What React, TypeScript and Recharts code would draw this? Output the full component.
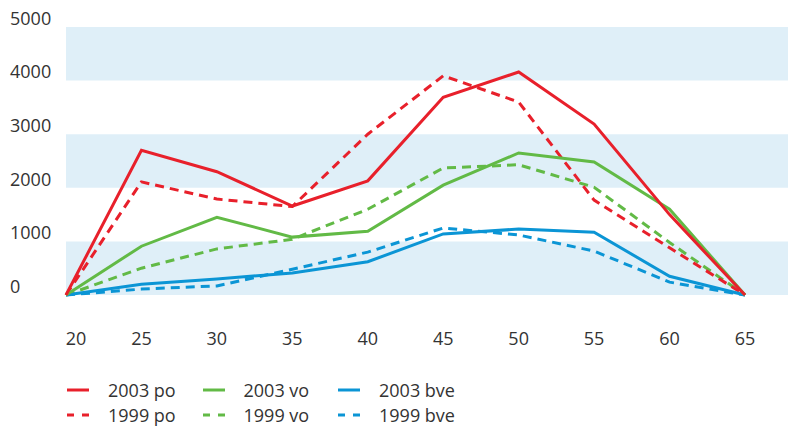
import React from "react";
import { LineChart, Line, XAxis, YAxis, ReferenceArea, Legend } from "recharts";

const ages = [20, 25, 30, 35, 40, 45, 50, 55, 60, 65];
const po2003 = [0, 2700, 2300, 1660, 2130, 3690, 4160, 3190, 1500, 0];
const po1999 = [0, 2110, 1790, 1650, 3000, 4090, 3600, 1770, 880, 0];
const vo2003 = [0, 910, 1450, 1080, 1190, 2050, 2650, 2480, 1600, 0];
const vo1999 = [0, 500, 860, 1040, 1600, 2370, 2430, 2010, 980, 0];
const bve2003 = [0, 200, 300, 410, 620, 1140, 1230, 1170, 350, 0];
const bve1999 = [0, 110, 170, 480, 800, 1250, 1120, 820, 240, 0];

const yTicks = [0, 1000, 2000, 3000, 4000, 5000];
const bands = [
  [0, 1000],
  [2000, 3000],
  [4000, 5000],
];

const RED = "#e8202b";
const GREEN = "#62ba46";
const BLUE = "#0b95d5";
const BAND = "#dfeff8";
const TEXT = "#333333";
const FONT = "'Open Sans', sans-serif";

const series = [
  { key: "po2003", name: "2003 po", color: RED, dashed: false, values: po2003 },
  { key: "vo2003", name: "2003 vo", color: GREEN, dashed: false, values: vo2003 },
  { key: "bve2003", name: "2003 bve", color: BLUE, dashed: false, values: bve2003 },
  { key: "po1999", name: "1999 po", color: RED, dashed: true, values: po1999 },
  { key: "vo1999", name: "1999 vo", color: GREEN, dashed: true, values: vo1999 },
  { key: "bve1999", name: "1999 bve", color: BLUE, dashed: true, values: bve1999 },
];

const data = ages.map((age, i) => {
  const row: Record<string, number> = { age };
  series.forEach((s) => {
    row[s.key] = s.values[i];
  });
  return row;
});

const YTick = (props: any) => {
  const { y, payload } = props;
  return (
    <text x={10} y={y - 7} textAnchor="start" dominantBaseline="middle" fill={TEXT} fontSize={18} fontFamily={FONT}>
      {payload.value}
    </text>
  );
};

const XTick = (props: any) => {
  const { x, y, payload } = props;
  const dx = payload.value === 20 ? 10 : 0;
  return (
    <text x={x + dx} y={y + 37} textAnchor="middle" dominantBaseline="middle" fill={TEXT} fontSize={18} fontFamily={FONT}>
      {payload.value}
    </text>
  );
};

const LegendContent = () => (
  <div style={{ position: "relative", width: 788, height: 58, fontFamily: FONT, fontSize: 18, color: TEXT }}>
    {series.map((s, i) => {
      const col = i % 3;
      const row = Math.floor(i / 3);
      return (
        <div
          key={s.key}
          style={{
            position: "absolute",
            left: 67 + col * 135.5,
            top: 11 + row * 25,
            height: 18,
            display: "flex",
            alignItems: "center",
            whiteSpace: "nowrap",
          }}
        >
          <svg width={22} height={6} style={{ marginRight: 19 }}>
            <line
              x1={0}
              y1={3}
              x2={22}
              y2={3}
              stroke={s.color}
              strokeWidth={3}
              strokeDasharray={s.dashed ? "7 8" : undefined}
            />
          </svg>
          <span style={{ lineHeight: "18px" }}>{s.name}</span>
        </div>
      );
    })}
  </div>
);

export default function App() {
  return (
    <div style={{ position: "absolute", left: 0, top: 0, width: 788, height: 428, background: "#fff" }}>
      <LineChart width={788} height={428} data={data} margin={{ top: 27, right: 0, left: 0, bottom: 0 }}>
        {bands.map(([a, b]) => (
          <ReferenceArea key={a} y1={a} y2={b} fill={BAND} fillOpacity={1} stroke="none" ifOverflow="extendDomain" />
        ))}
        <XAxis
          dataKey="age"
          type="number"
          domain={[20, 67.85]}
          ticks={ages}
          axisLine={false}
          tickLine={false}
          height={75}
          tick={<XTick />}
          interval={0}
        />
        <YAxis
          domain={[0, 5000]}
          ticks={yTicks}
          axisLine={false}
          tickLine={false}
          width={66}
          tick={<YTick />}
          interval={0}
        />
        <Legend verticalAlign="bottom" align="left" height={58} content={<LegendContent />} wrapperStyle={{ left: 0, bottom: 0, width: 788 }} />
        {[...series].reverse().map((s) => (
          <Line
            key={s.key}
            dataKey={s.key}
            name={s.name}
            stroke={s.color}
            strokeWidth={3}
            strokeDasharray={s.dashed ? "9 6" : undefined}
            dot={false}
            activeDot={false}
            isAnimationActive={false}
            strokeLinejoin="miter"
            type="linear"
          />
        ))}
      </LineChart>
    </div>
  );
}
